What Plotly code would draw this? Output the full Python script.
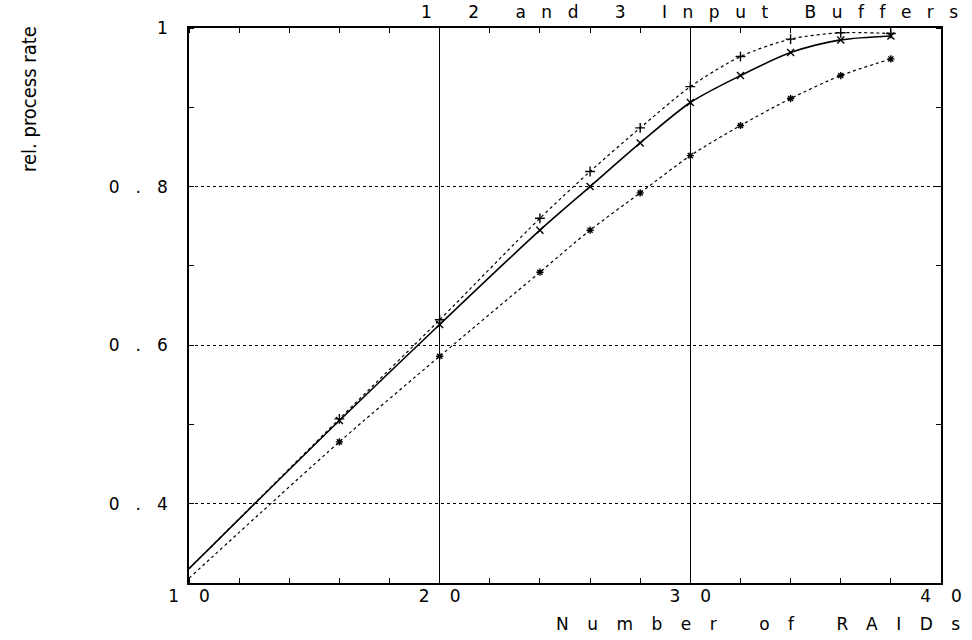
import plotly.graph_objects as go

# ---- data ----
raids = [10, 16, 20, 24, 26, 28, 30, 32, 34, 36, 38]
rate_2buf = [0.318, 0.505, 0.626, 0.745, 0.800, 0.855, 0.906, 0.940, 0.969, 0.985, 0.990]
rate_3buf = [0.318, 0.507, 0.632, 0.760, 0.819, 0.874, 0.926, 0.964, 0.986, 0.994, 0.993]
rate_1buf = [0.306, 0.478, 0.586, 0.692, 0.745, 0.792, 0.839, 0.877, 0.911, 0.940, 0.961]

x_tickvals = [10, 20, 30, 40]
x_ticktext = ["10", "20", "30", "40"]
y_tickvals = [0.4, 0.6, 0.8, 1.0]
y_ticktext = ["0.4", "0.6", "0.8", "1"]

title_text = "1 2 and 3 Input Buffers"
xlabel_text = "Number of RAIDs"
ylabel_text = "rel. process rate"

FONT = "DejaVu Sans"
PLOT_L, PLOT_R, PLOT_T, PLOT_B = 189, 941, 28, 583


def spaced(t, sp):
    # letter-spacing only between characters (no trailing gap)
    if len(t) < 2:
        return t
    return f'<span style="letter-spacing:{sp}px">{t[:-1]}</span>{t[-1]}'


fig = go.Figure()

series = [
    (rate_3buf, "dot", 1.2, "cross-thin-open", 7),
    (rate_2buf, "solid", 1.6, "x-thin-open", 7),
    (rate_1buf, "dot", 1.2, "asterisk-open", 6),
]
for ys, dash, w, sym, ms in series:
    fig.add_trace(go.Scatter(x=raids, y=ys, mode="lines",
                             line=dict(color="black", width=w, dash=dash, shape="spline", smoothing=0.8),
                             showlegend=False, hoverinfo="skip"))
    fig.add_trace(go.Scatter(x=raids[1:], y=ys[1:], mode="markers",
                             marker=dict(symbol=sym, size=ms, color="black",
                                         line=dict(color="black", width=1.4)),
                             showlegend=False))

fig.update_layout(
    width=972, height=640,
    margin=dict(l=PLOT_L, r=972 - PLOT_R, t=PLOT_T, b=640 - PLOT_B, autoexpand=False),
    paper_bgcolor="white", plot_bgcolor="white",
    font=dict(family=FONT, color="black"),
)

fig.update_xaxes(
    range=[10, 40], tickvals=x_tickvals, ticktext=[spaced(t, 20) for t in x_ticktext],
    tickfont=dict(size=17, family=FONT, color="black"),
    showline=True, linecolor="black", linewidth=1.5, mirror="allticks",
    ticks="", ticklabelstandoff=-3,
    showgrid=True, gridcolor="black", gridwidth=1.2, griddash="solid",
    zeroline=False, automargin=False,
    minor=dict(dtick=2, ticks="inside", ticklen=5, tickcolor="black", tickwidth=1, showgrid=False),
)
fig.update_yaxes(
    range=[0.3, 1.0], tickvals=y_tickvals, ticktext=[spaced(t, 16) for t in y_ticktext],
    tickfont=dict(size=17, family=FONT, color="black"),
    showline=True, linecolor="black", linewidth=1.5, mirror="allticks",
    ticks="", ticklabelstandoff=16,
    showgrid=True, gridcolor="black", gridwidth=1, griddash="dot",
    zeroline=False, automargin=False,
    minor=dict(tick0=0.3, dtick=0.1, ticks="inside", ticklen=5, tickcolor="black", tickwidth=1, showgrid=False),
)

pw = PLOT_R - PLOT_L
ph = PLOT_B - PLOT_T
fig.add_annotation(text=spaced(title_text, 15.5), xref="paper", yref="paper",
                   x=(960 - PLOT_L) / pw, y=(PLOT_B - 12) / ph, xanchor="right", yanchor="middle",
                   showarrow=False, font=dict(size=17, family=FONT, color="black"))
fig.add_annotation(text=spaced(xlabel_text, 18.5), xref="paper", yref="paper",
                   x=(962 - PLOT_L) / pw, y=(PLOT_B - 624) / ph, xanchor="right", yanchor="middle",
                   showarrow=False, font=dict(size=17, family=FONT, color="black"))
fig.add_annotation(text=ylabel_text, xref="paper", yref="paper",
                   x=(29 - PLOT_L) / pw, y=(PLOT_B - 99) / ph, xanchor="center", yanchor="middle",
                   textangle=-90, showarrow=False,
                   font=dict(size=20, family="Liberation Sans Narrow, DejaVu Sans Condensed, sans-serif",
                             color="black"))

fig.write_html("out.html", config={"displayModeBar": False},
               post_script="document.body.style.margin='0';")
